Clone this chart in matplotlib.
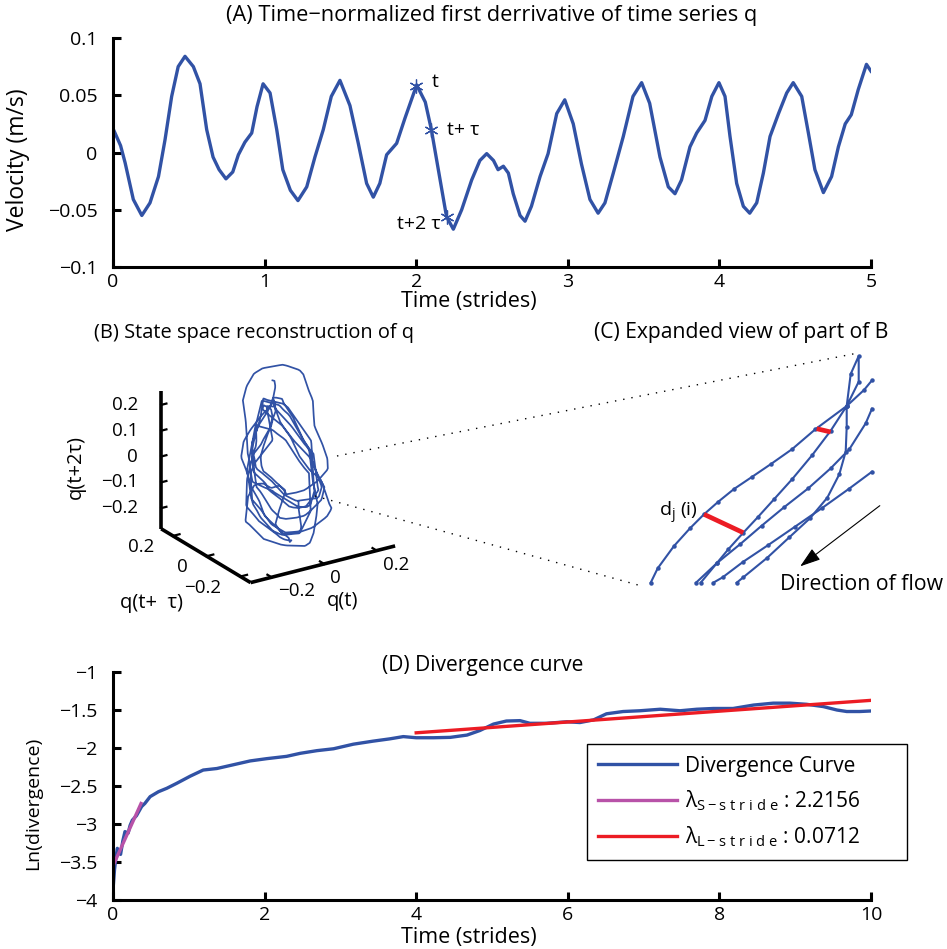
import numpy as np
import matplotlib
matplotlib.use('Agg')
import matplotlib.pyplot as plt
from matplotlib.lines import Line2D
from matplotlib.ticker import FuncFormatter
from mpl_toolkits.mplot3d import proj3d

plt.rcParams['font.family'] = ['Open Sans', 'DejaVu Sans']
plt.rcParams['mathtext.fontset'] = 'dejavusans'
plt.rcParams['font.size'] = 14
TICK_SIZE = 14
LABEL_SIZE = 15.5

BLUE = '#3152a5'
RED = '#ec1c24'
MAGENTA = '#b852a8'

# (A) velocity of q over five strides
stride_t = [0.00, 0.05, 0.08, 0.134, 0.19, 0.244, 0.30, 0.343, 0.387, 0.43, 0.475,
            0.53, 0.574, 0.618, 0.66, 0.70, 0.745, 0.79, 0.827, 0.87, 0.915, 0.95,
            0.99, 1.036, 1.08, 1.12, 1.17, 1.22, 1.278, 1.332, 1.387, 1.44, 1.497,
            1.563, 1.618, 1.673, 1.717, 1.76, 1.805, 1.871, 1.926, 2.003, 2.06, 2.10,
            2.146, 2.20, 2.245, 2.30, 2.366, 2.42, 2.465, 2.51, 2.54, 2.575, 2.608,
            2.64, 2.685, 2.718, 2.76, 2.817, 2.87, 2.927, 2.98, 3.036, 3.09, 3.146,
            3.20, 3.245, 3.30, 3.366, 3.43, 3.487, 3.54, 3.608, 3.663, 3.707, 3.75,
            3.806, 3.85, 3.905, 3.95, 3.997, 4.037, 4.07, 4.114, 4.158, 4.20, 4.246,
            4.29, 4.334, 4.39, 4.444, 4.487, 4.543, 4.587, 4.63, 4.686, 4.74, 4.785,
            4.83, 4.87, 4.916, 4.97, 5.00]
velocity = [0.021, 0.006, -0.009, -0.041, -0.055, -0.044, -0.021, 0.011, 0.049, 0.075, 0.084,
            0.075, 0.060, 0.020, -0.004, -0.015, -0.023, -0.017, -0.002, 0.009, 0.017, 0.040,
            0.060, 0.052, 0.020, -0.015, -0.033, -0.042, -0.030, -0.004, 0.020, 0.049, 0.063,
            0.041, 0.008, -0.027, -0.039, -0.027, -0.002, 0.008, 0.030, 0.059, 0.044, 0.020,
            -0.015, -0.056, -0.067, -0.050, -0.024, -0.007, -0.001, -0.007, -0.015, -0.012, -0.018,
            -0.036, -0.055, -0.060, -0.047, -0.021, -0.001, 0.034, 0.046, 0.025, -0.010, -0.041,
            -0.053, -0.044, -0.018, 0.014, 0.049, 0.061, 0.043, -0.004, -0.030, -0.036, -0.024,
            0.005, 0.017, 0.028, 0.049, 0.061, 0.049, 0.014, -0.027, -0.047, -0.053, -0.044,
            -0.018, 0.014, 0.034, 0.052, 0.061, 0.049, 0.017, -0.015, -0.035, -0.021, 0.005,
            0.025, 0.033, 0.055, 0.077, 0.071]
tau = 0.1
delay_times = [2.0, 2.0 + tau, 2.0 + 2 * tau]
delay_labels = ['t', 't+ \u03c4', 't+2 \u03c4']

# (B) embedding lag, gain and tick values
embed_lag = 0.065
q_gain = 3.4
q_ticks = [-0.2, 0.0, 0.2]
qz_ticks = [-0.2, -0.1, 0.0, 0.1, 0.2]

# (D) divergence curve and the two fitted slopes
div_t = [0.005, 0.02, 0.035, 0.057, 0.08, 0.10, 0.13, 0.158, 0.20, 0.225, 0.255, 0.31,
         0.378, 0.42, 0.49, 0.60, 0.71, 0.84, 1.02, 1.19, 1.37, 1.59, 1.81, 2.03, 2.29,
         2.47, 2.69, 2.91, 3.17, 3.43, 3.65, 3.83, 4.0, 4.23, 4.45, 4.67, 4.84, 5.02,
         5.19, 5.37, 5.5, 5.72, 5.99, 6.16, 6.34, 6.51, 6.73, 6.95, 7.22, 7.48, 7.70,
         7.92, 8.18, 8.45, 8.71, 8.93, 9.15, 9.37, 9.55, 9.68, 9.85, 10.0]
div_ln = [-3.80, -3.60, -3.47, -3.32, -3.38, -3.40, -3.22, -3.10, -3.12, -3.02, -2.95, -2.89,
          -2.77, -2.73, -2.64, -2.575, -2.53, -2.465, -2.37, -2.29, -2.27, -2.22, -2.17, -2.14, -2.11,
          -2.07, -2.035, -2.01, -1.95, -1.91, -1.88, -1.85, -1.865, -1.865, -1.86, -1.83, -1.77, -1.685,
          -1.645, -1.64, -1.675, -1.675, -1.655, -1.665, -1.63, -1.55, -1.52, -1.51, -1.49, -1.51, -1.49,
          -1.48, -1.48, -1.435, -1.41, -1.41, -1.425, -1.455, -1.50, -1.52, -1.52, -1.513]
short_slope, short_icpt, short_span = 2.2156, -3.55, (0.0, 0.37)
long_slope, long_icpt, long_span = 0.0712, -2.085, (4.0, 10.0)

# (C) sketch of neighbouring trajectories, local sketch units
traj_x = [
    [50.7, 57.7, 74, 90, 104, 118.3, 134, 152.3, 171, 192.3, 215.3, 246.7, 264, 272],
    [100.7, 116.7, 128.3, 143.3, 157.7, 174, 192.3, 212.3, 230.7, 246.7, 250.7, 258.7, 258.7,
     246.7, 246.7, 245.7, 239.3, 227.3, 210, 189.3, 167.3, 143.3, 136.7],
    [272, 248.7, 221.7, 195, 168.3, 143.3, 122.7, 113.3],
    [272, 265.7, 249.3, 230.7, 208.3, 184, 161.7, 140, 116.7, 96],
]
traj_y = [
    [17.3, 31.7, 54, 71.7, 85.7, 98.3, 111, 123.3, 136, 151, 170.7, 194, 210, 219.7],
    [17.3, 36.7, 50.7, 67.3, 82.7, 100.7, 121, 145, 169.3, 194, 226, 244, 218.3,
     194, 173.3, 148.3, 125.7, 102.3, 81.7, 62.7, 42.3, 22.7, 17.3],
    [128.3, 111, 91.7, 73.3, 55, 38.3, 22.7, 17.3],
    [191.3, 176.7, 150.7, 131.7, 111.7, 92.7, 74.3, 55.7, 36.7, 17.3],
]
gap_x = [[104, 143.3], [216.7, 230.7]]
gap_y = [[85.7, 67.3], [171.3, 168]]
flow_tail, flow_head = (282, 96), (198, 32)

W, H = 947, 949
fig = plt.figure(figsize=(W / 100, H / 100), dpi=100)


def px_axes(left, top, right, bottom, **kw):
    return fig.add_axes([left / W, 1 - bottom / H, (right - left) / W, (bottom - top) / H], **kw)


def fig_text(x, y, s, **kw):
    kw.setdefault('ha', 'center')
    kw.setdefault('va', 'center')
    return fig.text(x / W, 1 - y / H, s, **kw)


def num(v):
    return f'{v:g}'.replace('-', '\u2212')


minus_fmt = FuncFormatter(lambda v, _: num(v))


def style_2d(ax):
    for side in ('top', 'right'):
        ax.spines[side].set_visible(False)
    for side in ('left', 'bottom'):
        ax.spines[side].set_linewidth(2.2)
    ax.tick_params(direction='in', length=6, width=2.2, labelsize=TICK_SIZE)
    ax.tick_params(axis='x', pad=4)
    ax.tick_params(axis='y', pad=11)
    ax.xaxis.set_major_formatter(minus_fmt)
    ax.yaxis.set_major_formatter(minus_fmt)


# ---- (A) ----
axA = px_axes(113, 38, 871, 267)
axA.plot(stride_t, velocity, color=BLUE, lw=2.4)
mark_v = np.interp(delay_times, stride_t, velocity)
axA.plot(delay_times, mark_v, ls='none', marker=(6, 2, 0), ms=10, mec=BLUE, mew=0.9)
offsets = [((11, 3), 'left'), ((11, 0), 'left'), ((-4, -5), 'right')]
for tx, vy, lab, (off, ha) in zip(delay_times, mark_v, delay_labels, offsets):
    axA.annotate(lab, (tx, vy), xytext=off, textcoords='offset points', ha=ha, va='center')
axA.set_xlim(0, 5)
axA.set_ylim(-0.1, 0.1)
axA.set_xticks(range(6))
axA.set_yticks([-0.1, -0.05, 0, 0.05, 0.1])
style_2d(axA)
fig_text(492, 15, '(A) Time\u2212normalized first derrivative of time series q', fontsize=15.7)
fig_text(469, 302, 'Time (strides)', fontsize=LABEL_SIZE)
fig_text(18, 160, 'Velocity (m/s)', rotation=90, fontsize=16.5)

# ---- (D) ----
axD = px_axes(113, 672, 871, 900)
axD.plot(div_t, div_ln, color=BLUE, lw=2.4, label='Divergence Curve')
ts = np.array(short_span)
axD.plot(ts, short_slope * ts + short_icpt, color=MAGENTA, lw=2.4,
         label='\u03bb$_{\\mathregular{S-s\\;t\\;r\\;i\\;d\\;e}}$' + f' : {short_slope:.4f}')
tl = np.array(long_span)
axD.plot(tl, long_slope * tl + long_icpt, color=RED, lw=2.4,
         label='\u03bb$_{\\mathregular{L-s\\;t\\;r\\;i\\;d\\;e}}$' + f' : {long_slope:.4f}')
axD.set_xlim(0, 10)
axD.set_ylim(-4, -1)
axD.set_xticks(range(0, 11, 2))
axD.set_yticks(np.arange(-4, -0.9, 0.5))
style_2d(axD)
leg = axD.legend(loc='upper left', bbox_to_anchor=(0.6253, 0.175, 0.4222, 0.509), mode='expand',
                 frameon=True, fancybox=False, edgecolor='black', framealpha=1,
                 handlelength=3.75, labelspacing=0.55, borderpad=0.55, handletextpad=0.4,
                 borderaxespad=0, fontsize=15)
leg.get_frame().set_linewidth(1.0)
fig_text(483, 665, '(D) Divergence curve', fontsize=15.1)
fig_text(469, 938, 'Time (strides)', fontsize=LABEL_SIZE)
fig_text(33, 803, 'Ln(divergence)', rotation=90, fontsize=14)

# ---- (B) ----
lo = np.array([-0.28, -0.26, -0.28])
hi = np.array([0.27, 0.27, 0.255])
axB = fig.add_axes([0.05, 0.33, 0.3, 0.3], projection='3d')
axB.set_proj_type('ortho')
axB.view_init(elev=23, azim=-123)
axB.set_box_aspect((170, 162, 148))
axB.set_xlim(lo[0], hi[0])
axB.set_ylim(lo[1], hi[1])
axB.set_zlim(lo[2], hi[2])
axB.set_axis_off()

# delay embedding of the de-meaned series
v_centered = np.array(velocity) - np.mean(velocity)
tt = np.arange(0, stride_t[-1] - 2 * embed_lag, 0.004)
qx = np.interp(tt, stride_t, v_centered) * q_gain
qy = np.interp(tt + embed_lag, stride_t, v_centered) * q_gain
qz = np.interp(tt + 2 * embed_lag, stride_t, v_centered) * q_gain
axB.plot(qx, qy, qz, color=BLUE, lw=1.25)

ax_kw = dict(color='black', lw=2.6, solid_capstyle='butt')
axB.plot([lo[0], hi[0]], [lo[1], lo[1]], [lo[2], lo[2]], **ax_kw)
axB.plot([lo[0], lo[0]], [lo[1], hi[1]], [lo[2], lo[2]], **ax_kw)
axB.plot([lo[0], lo[0]], [hi[1], hi[1]], [lo[2], hi[2]], **ax_kw)
tick_kw = dict(color='black', lw=1.6)
for v in q_ticks:
    axB.plot([v, v], [lo[1], lo[1] + 0.025], [lo[2], lo[2]], **tick_kw)
    axB.plot([lo[0], lo[0] + 0.025], [v, v], [lo[2], lo[2]], **tick_kw)
for v in qz_ticks:
    axB.plot([lo[0], lo[0] + 0.02], [hi[1], hi[1]], [v, v], **tick_kw)


def proj_px(p):
    x2, y2, _ = proj3d.proj_transform(p[0], p[1], p[2], axB.get_proj())
    return axB.transData.transform((x2, y2))


# fit the 3D box onto its slot in the figure (display pixels, y up)
box_pts = [(lo[0], lo[1], lo[2]), (hi[0], lo[1], lo[2]), (lo[0], hi[1], hi[2]), (lo[0], hi[1], lo[2])]
box_goal = np.array([(253, H - 582), (395, H - 547), (160, H - 392), (160, H - 527)], float)
fig.canvas.draw()
cur = np.array([proj_px(p) for p in box_pts])
cm, gm = cur.mean(0), box_goal.mean(0)
k = np.sum((cur - cm) * (box_goal - gm)) / np.sum((cur - cm) ** 2)
shift = gm - k * cm
bb = axB.get_position()
ctr = np.array([(bb.x0 + bb.width / 2) * W, (bb.y0 + bb.height / 2) * H])
new_ctr = shift + k * ctr
side = bb.width * W * k
axB.set_position([(new_ctr[0] - side / 2) / W, (new_ctr[1] - side / 2) / H, side / W, side / H])
fig.canvas.draw()

B_TICK = 13.5
for v in q_ticks:
    px, py = proj_px((v, lo[1], lo[2]))
    fig.text((px + 6) / W, (py - 14) / H, num(v), ha='left', va='center', fontsize=B_TICK)
    px, py = proj_px((lo[0], v, lo[2]))
    fig.text((px - 19) / W, (py - 11) / H, num(v), ha='right', va='center', fontsize=B_TICK)
for v in qz_ticks:
    px, py = proj_px((lo[0], hi[1], v))
    fig.text((px - 23) / W, py / H, num(v), ha='right', va='center', fontsize=B_TICK)
fig_text(76, 467, 'q(t+2\u03c4)', rotation=90, fontsize=14.5)
fig_text(151, 603, 'q(t+  \u03c4)', fontsize=14.5)
fig_text(343, 601, 'q(t)', fontsize=14.5)
fig_text(254, 333, '(B) State space reconstruction of q', fontsize=14.4)

# ---- (C) ----
axC = px_axes(600, 340, 900, 600)
axC.set_xlim(0, 300)
axC.set_ylim(0, 260)
axC.set_axis_off()
for xs, ys in zip(traj_x, traj_y):
    axC.plot(xs, ys, color=BLUE, lw=1.5, marker='o', ms=2.2)
for xs, ys in zip(gap_x, gap_y):
    axC.plot(xs, ys, color=RED, lw=3.4, solid_capstyle='butt')
axC.annotate('', xy=flow_head, xytext=flow_tail,
             arrowprops=dict(arrowstyle='-|>,head_length=0.9,head_width=0.3', color='black', lw=0.8))
axC.text(98, 87, 'd$_\\mathregular{j}$ (i)', ha='right', va='center')
axC.text(180, 15, 'Direction of flow', ha='left', va='center', clip_on=False, fontsize=15.3)
fig_text(741, 333, '(C) Expanded view of part of B', fontsize=15.2)

# dotted guides from the attractor to the close-up
dot_kw = dict(color='black', lw=1.0, ls=(0, (1, 5)), transform=None)
fig.add_artist(Line2D([337, 858], [H - 456, H - 353], **dot_kw))
fig.add_artist(Line2D([315, 638], [H - 496, H - 585], **dot_kw))

fig.savefig('out.png', dpi=100)
